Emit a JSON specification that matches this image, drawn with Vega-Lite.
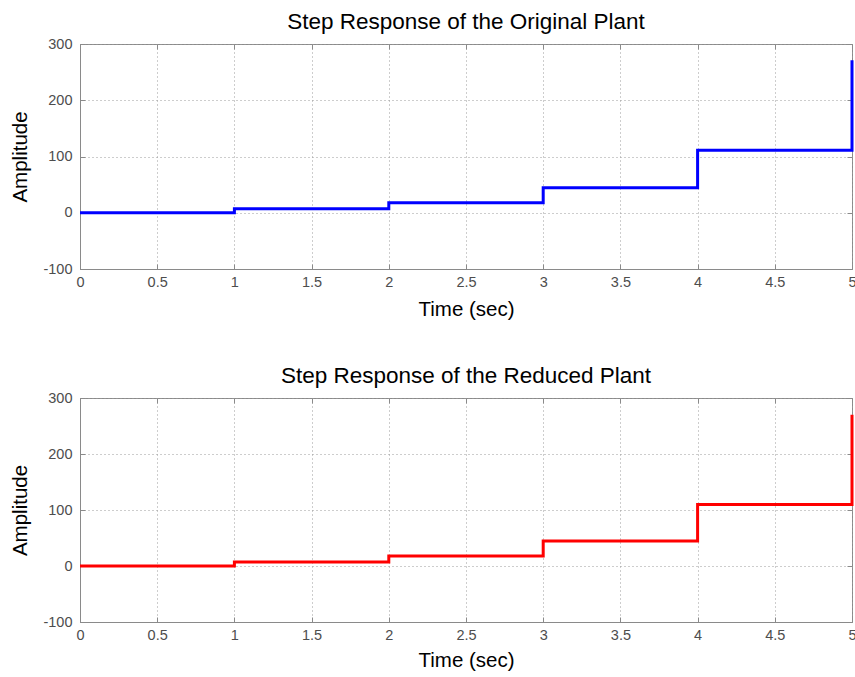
{
  "$schema": "https://vega.github.io/schema/vega-lite/v6.json",
  "autosize": {"type": "pad"},
  "padding": {"left": 10, "top": 10, "right": 0, "bottom": 4},
  "background": "white",
  "bounds": "flush",
  "spacing": 129,
  "config": {
    "font": "Liberation Sans",
    "view": {"stroke": "#8a8a8a", "strokeWidth": 1},
    "title": {"font": "Liberation Sans", "fontSize": 22.5, "fontWeight": "normal", "color": "#000000", "baseline": "alphabetic", "offset": 3},
    "axis": {
      "labelFont": "Liberation Sans", "labelFontSize": 14.5, "labelColor": "#4d4d4d",
      "titleFont": "Liberation Sans", "titleFontSize": 20.5, "titleFontWeight": "normal", "titleColor": "#000000",
      "domainColor": "#8a8a8a", "tickColor": "#8a8a8a", "tickSize": -5,
      "gridColor": "#9a9a9a", "gridDash": [1, 3], "gridWidth": 1
    },
    "line": {"strokeWidth": 3, "interpolate": "step-after"}
  },
  "datasets": {
    "original": [
      {"t": 0, "amp": 0},
      {"t": 1, "amp": 7},
      {"t": 2, "amp": 18},
      {"t": 3, "amp": 44.5},
      {"t": 4, "amp": 111},
      {"t": 5, "amp": 111},
      {"t": 5, "amp": 271}
    ],
    "reduced": [
      {"t": 0, "amp": 0},
      {"t": 1, "amp": 7},
      {"t": 2, "amp": 18},
      {"t": 3, "amp": 44.5},
      {"t": 4, "amp": 110},
      {"t": 5, "amp": 110},
      {"t": 5, "amp": 270}
    ]
  },
  "vconcat": [
    {
      "title": "Step Response of the Original Plant",
      "width": 772,
      "height": 225,
      "data": {"name": "original"},
      "resolve": {"axis": {"x": "independent", "y": "independent"}},
      "layer": [
        {
          "mark": {"type": "line", "color": "#0000ff", "strokeWidth": 3},
          "encoding": {
            "x": {"field": "t", "type": "quantitative", "sort": null, "scale": {"domain": [0, 5], "nice": false, "zero": false},
              "axis": {"orient": "bottom", "title": "Time (sec)", "values": [0, 0.5, 1, 1.5, 2, 2.5, 3, 3.5, 4, 4.5, 5], "labelExpr": "'' + datum.value", "grid": true, "labelPadding": 11, "titlePadding": 11, "labelFlush": false}},
            "y": {"field": "amp", "type": "quantitative", "scale": {"domain": [-100, 300], "nice": false, "zero": false},
              "axis": {"orient": "left", "title": "Amplitude", "values": [-100, 0, 100, 200, 300], "labelExpr": "'' + datum.value", "grid": true, "labelPadding": 13, "titlePadding": 12, "labelFlush": false}},
            "order": {"field": "t", "type": "quantitative"}
          }
        },
        {
          "mark": {"type": "line", "opacity": 0},
          "encoding": {
            "x": {"field": "t", "type": "quantitative", "axis": {"orient": "top", "title": null, "labels": false, "grid": false, "domain": false, "values": [0, 0.5, 1, 1.5, 2, 2.5, 3, 3.5, 4, 4.5, 5]}},
            "y": {"field": "amp", "type": "quantitative", "axis": {"orient": "right", "title": null, "labels": false, "grid": false, "domain": false, "values": [-100, 0, 100, 200, 300]}}
          }
        }
      ]
    },
    {
      "title": "Step Response of the Reduced Plant",
      "width": 772,
      "height": 224,
      "data": {"name": "reduced"},
      "resolve": {"axis": {"x": "independent", "y": "independent"}},
      "layer": [
        {
          "mark": {"type": "line", "color": "#ff0000", "strokeWidth": 3},
          "encoding": {
            "x": {"field": "t", "type": "quantitative", "sort": null, "scale": {"domain": [0, 5], "nice": false, "zero": false},
              "axis": {"orient": "bottom", "title": "Time (sec)", "values": [0, 0.5, 1, 1.5, 2, 2.5, 3, 3.5, 4, 4.5, 5], "labelExpr": "'' + datum.value", "grid": true, "labelPadding": 11, "titlePadding": 9, "labelFlush": false}},
            "y": {"field": "amp", "type": "quantitative", "scale": {"domain": [-100, 300], "nice": false, "zero": false},
              "axis": {"orient": "left", "title": "Amplitude", "values": [-100, 0, 100, 200, 300], "labelExpr": "'' + datum.value", "grid": true, "labelPadding": 13, "titlePadding": 12, "labelFlush": false}},
            "order": {"field": "t", "type": "quantitative"}
          }
        },
        {
          "mark": {"type": "line", "opacity": 0},
          "encoding": {
            "x": {"field": "t", "type": "quantitative", "axis": {"orient": "top", "title": null, "labels": false, "grid": false, "domain": false, "values": [0, 0.5, 1, 1.5, 2, 2.5, 3, 3.5, 4, 4.5, 5]}},
            "y": {"field": "amp", "type": "quantitative", "axis": {"orient": "right", "title": null, "labels": false, "grid": false, "domain": false, "values": [-100, 0, 100, 200, 300]}}
          }
        }
      ]
    }
  ]
}
